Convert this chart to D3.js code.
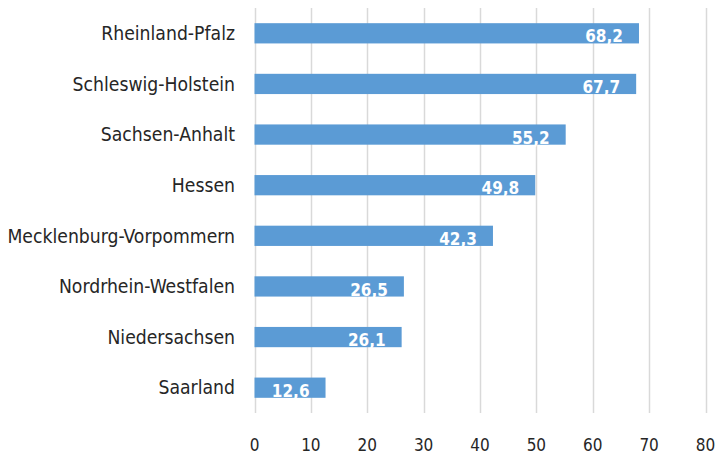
<!DOCTYPE html>
<html>
<head>
<meta charset="utf-8">
<script src="https://cdn.jsdelivr.net/npm/d3@7"></script>
<style>
  body { margin: 0; background: #fff; }
  text { font-family: "DejaVu Sans Condensed", "DejaVu Sans", sans-serif; }
</style>
</head>
<body>
<div id="chart-area"></div>
<script>
// SVG Size
var width = 715,
    height = 454;

// Data
var states = ["Rheinland-Pfalz", "Schleswig-Holstein", "Sachsen-Anhalt", "Hessen",
    "Mecklenburg-Vorpommern", "Nordrhein-Westfalen", "Niedersachsen", "Saarland"];
var values = [68.2, 67.7, 55.2, 49.8, 42.3, 26.5, 26.1, 12.6];
var ticks = [0, 10, 20, 30, 40, 50, 60, 70, 80];

var data = states.map(function(s, i) { return { state: s, value: values[i] }; });

var plotLeft = 254.5, plotRight = 705.5, plotTop = 8, plotBottom = 413;

var svg = d3.select("#chart-area")
    .append("svg")
    .attr("width", width)
    .attr("height", height);

// Scales
var x = d3.scaleLinear()
    .domain([0, 80])
    .range([plotLeft, plotRight]);

var y = d3.scaleBand()
    .domain(states)
    .range([plotTop, plotBottom])
    .paddingInner(0.6)
    .paddingOuter(0.3);

// Gridlines
svg.selectAll("line.grid")
    .data(ticks)
    .enter()
    .append("line")
    .attr("class", "grid")
    .attr("x1", d => Math.round(x(d)) + 0.5)
    .attr("x2", d => Math.round(x(d)) + 0.5)
    .attr("y1", plotTop)
    .attr("y2", plotBottom)
    .attr("stroke", "#d9d9d9")
    .attr("stroke-width", 1.5);

// Bars
svg.selectAll("rect.bar")
    .data(data)
    .enter()
    .append("rect")
    .attr("class", "bar")
    .attr("x", x(0))
    .attr("y", d => y(d.state))
    .attr("width", d => x(d.value) - x(0))
    .attr("height", y.bandwidth())
    .attr("fill", "#5b9bd5");

// Value labels
svg.selectAll("text.val")
    .data(data)
    .enter()
    .append("text")
    .attr("class", "val")
    .attr("x", d => x(d.value) - 16)
    .attr("y", d => y(d.state) + y.bandwidth() - 1)
    .attr("text-anchor", "end")
    .attr("fill", "#fff")
    .attr("font-weight", "bold")
    .attr("font-size", "17px")
    .text(d => d3.format(".1f")(d.value).replace(".", ","));

// Category labels
svg.selectAll("text.cat")
    .data(data)
    .enter()
    .append("text")
    .attr("class", "cat")
    .attr("x", 235)
    .attr("y", d => y(d.state) + y.bandwidth() / 2)
    .attr("dy", "0.35em")
    .attr("text-anchor", "end")
    .attr("fill", "#262626")
    .attr("font-size", "19.2px")
    .text(d => d.state);

// X axis labels
svg.selectAll("text.tick")
    .data(ticks)
    .enter()
    .append("text")
    .attr("class", "tick")
    .attr("x", d => x(d))
    .attr("y", 445)
    .attr("dy", "0.35em")
    .attr("text-anchor", "middle")
    .attr("fill", "#262626")
    .attr("font-size", "17px")
    .text(d => d);
</script>
</body>
</html>
